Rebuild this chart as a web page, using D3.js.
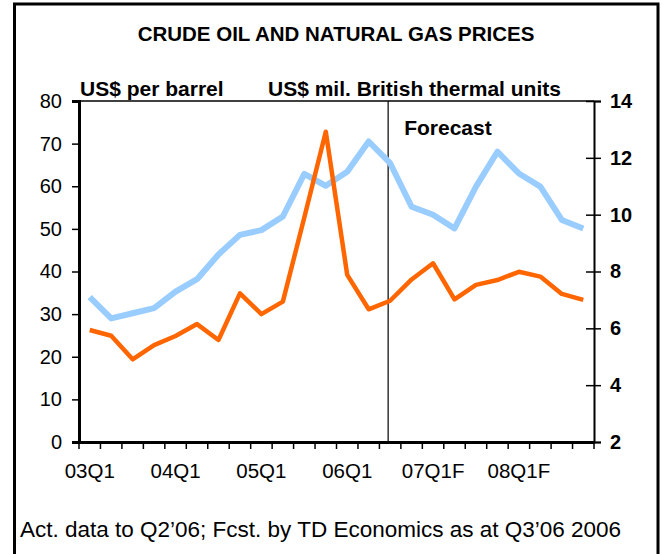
<!DOCTYPE html>
<html>
<head>
<meta charset="UTF-8">
<script src="https://d3js.org/d3.v7.min.js"></script>
<style>
    body { margin: 0; background: white; }
    svg text { font-family: "Liberation Sans", Arial, sans-serif; fill: black; }
    .oil { fill: none; stroke: #99ccff; stroke-width: 6px; stroke-linejoin: round; }
    .gas { fill: none; stroke: #ff6600; stroke-width: 4.5px; stroke-linejoin: round; }
</style>
</head>
<body>
<svg id="chart" width="662" height="554"></svg>
<script>
    // quarters 03Q1 .. 08Q4
    const quarters = ["03Q1","03Q2","03Q3","03Q4","04Q1","04Q2","04Q3","04Q4",
                      "05Q1","05Q2","05Q3","05Q4","06Q1","06Q2","06Q3","06Q4",
                      "07Q1F","07Q2F","07Q3F","07Q4F","08Q1F","08Q2F","08Q3F","08Q4F"];
    const tickLabels = ["03Q1","04Q1","05Q1","06Q1","07Q1F","08Q1F"];
    // crude oil, US$ per barrel (left axis)
    const oil = [34, 29, 30.2, 31.4, 35.3, 38.2, 44, 48.6, 49.7, 52.9, 62.9, 60.1,
                 63.4, 70.5, 65.4, 55.2, 53.3, 50.1, 59.9, 68.1, 63, 59.9, 52.1, 50.1];
    // natural gas, US$ per mil. BTU (right axis)
    const gas = [5.94, 5.74, 4.91, 5.41, 5.73, 6.15, 5.59, 7.23, 6.5, 6.94, 9.9, 12.92,
                 7.88, 6.67, 6.97, 7.72, 8.29, 7.02, 7.53, 7.7, 7.99, 7.82, 7.21, 7.0];
    const leftTicks = [0, 10, 20, 30, 40, 50, 60, 70, 80];
    const rightTicks = [2, 4, 6, 8, 10, 12, 14];
    const forecastStart = "06Q3";

    const svg = d3.select("svg#chart");
    const margin = {top: 101, right: 68, bottom: 112, left: 79};
    const width = 662 - margin.left - margin.right;
    const height = 554 - margin.top - margin.bottom;

    // outer frame
    svg.append("rect")
        .attr("x", 14.5).attr("y", 4)
        .attr("width", 643.5).attr("height", 580)
        .attr("fill", "none").attr("stroke", "black").attr("stroke-width", 3);

    svg.append("text")
        .attr("x", 336).attr("y", 41)
        .attr("text-anchor", "middle")
        .style("font-size", "20.5px").style("font-weight", "bold")
        .text("CRUDE OIL AND NATURAL GAS PRICES");

    const g = svg.append("g").attr("transform", `translate(${margin.left},${margin.top})`);

    const x = d3.scaleBand().domain(quarters).range([0, width]);
    const yL = d3.scaleLinear().domain([0, 80]).range([height, 0]);
    const yR = d3.scaleLinear().domain([2, 14]).range([height, 0]);

    // top frame line
    g.append("line")
        .attr("x1", 0).attr("x2", width).attr("y1", 0).attr("y2", 0)
        .attr("stroke", "black").attr("stroke-width", 1.5);

    // forecast divider
    const fx = x(forecastStart) + x.bandwidth() / 2 - 2;
    g.append("line")
        .attr("x1", fx).attr("x2", fx).attr("y1", 0).attr("y2", height)
        .attr("stroke", "black").attr("stroke-width", 1.2);

    g.append("text")
        .attr("x", fx + 16).attr("y", 34)
        .style("font-size", "21px").style("font-weight", "bold")
        .text("Forecast");

    // lines
    const lineOil = d3.line()
        .x((d, i) => x(quarters[i]) + x.bandwidth() / 2)
        .y(d => yL(d));
    const lineGas = d3.line()
        .x((d, i) => x(quarters[i]) + x.bandwidth() / 2)
        .y(d => yR(d));

    g.append("path").datum(oil).attr("class", "oil").attr("d", lineOil);
    g.append("path").datum(gas).attr("class", "gas").attr("d", lineGas);

    // left axis
    const left = g.append("g")
        .call(d3.axisLeft(yL).tickValues(leftTicks).tickSize(7).tickPadding(10));
    left.select(".domain").attr("stroke-width", 3);
    left.selectAll(".tick line").attr("stroke-width", 1.5);
    left.selectAll("text").style("font-size", "20px");

    // right axis
    const right = g.append("g")
        .attr("transform", `translate(${width},0)`)
        .call(d3.axisRight(yR).tickValues(rightTicks).tickSize(7).tickPadding(9));
    right.select(".domain").attr("stroke-width", 2);
    right.selectAll(".tick line").attr("x1", -8).attr("stroke-width", 1.5);
    right.selectAll("text").style("font-size", "20px").style("font-weight", "bold");

    // bottom axis: ticks on band edges, labels on band centres
    const edges = quarters.map(q => x(q)).concat([width]);
    g.append("g").selectAll("line")
        .data(edges).join("line")
        .attr("x1", d => d).attr("x2", d => d)
        .attr("y1", height).attr("y2", height + 7)
        .attr("stroke", "black").attr("stroke-width", 1.5);
    const bottom = g.append("g")
        .attr("transform", `translate(0,${height})`)
        .call(d3.axisBottom(x).tickValues(tickLabels).tickSize(0).tickPadding(21));
    bottom.select(".domain").attr("stroke-width", 3);
    bottom.selectAll("text").style("font-size", "20.5px");

    // axis titles
    svg.append("text")
        .attr("x", 80).attr("y", 96)
        .style("font-size", "21px").style("font-weight", "bold")
        .text("US$ per barrel");
    svg.append("text")
        .attr("x", 268).attr("y", 96)
        .style("font-size", "21px").style("font-weight", "bold")
        .text("US$ mil. British thermal units");

    svg.append("text")
        .attr("x", 20).attr("y", 537)
        .style("font-size", "22.5px")
        .text("Act. data to Q2\u201906; Fcst. by TD Economics as at Q3\u201906 2006");
</script>
</body>
</html>
